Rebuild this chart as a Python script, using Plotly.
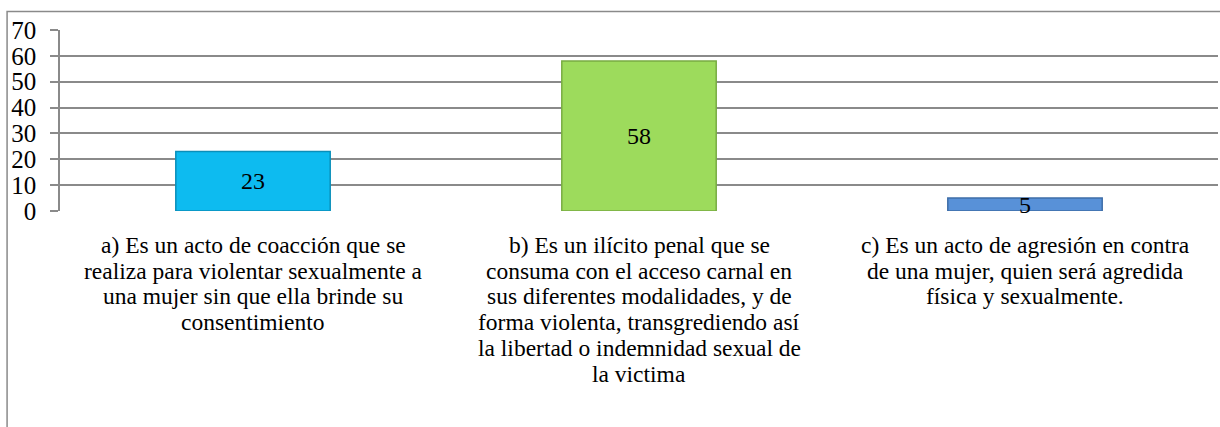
import plotly.graph_objs as go

categories = ["a", "b", "c"]
values = [23, 58, 5]
label_lines = [
    ["a) Es un acto de coacción que se",
     "realiza para violentar sexualmente a",
     "una mujer sin que ella brinde su",
     "consentimiento"],
    ["b) Es un ilícito penal que se",
     "consuma con el acceso carnal en",
     "sus diferentes modalidades, y de",
     "forma violenta, transgrediendo así",
     "la libertad o indemnidad sexual de",
     "la victima"],
    ["c) Es un acto de agresión en contra",
     "de una mujer, quien será agredida",
     "física y sexualmente."],
]
colors = ["#0DBBF0", "#9DDB5C", "#5891D8"]
edge_colors = ["#0A8FBA", "#78AC42", "#3E6EA8"]

serif = "Liberation Serif, Times New Roman, serif"

fig = go.Figure()
fig.add_trace(go.Bar(
    x=categories, y=values,
    marker=dict(color=colors, line=dict(color=edge_colors, width=1.5)),
    text=[str(v) for v in values],
    textposition="inside", insidetextanchor="middle", textangle=0,
    textfont=dict(family=serif, size=24, color="black"),
    constraintext="none",
    cliponaxis=False,
))

# category labels, one annotation per line (tight Word-like line spacing)
for cat, lines in zip(categories, label_lines):
    for i, line in enumerate(lines):
        fig.add_annotation(x=cat, y=0, xref="x", yref="y", text=line,
                           showarrow=False, yanchor="middle",
                           yshift=-(34 + 25.7 * i),
                           font=dict(family=serif, size=23.5, color="black"))

fig.update_layout(
    width=1220, height=427,
    margin=dict(l=60, r=2, t=30, b=216),
    paper_bgcolor="white", plot_bgcolor="white",
    bargap=0.6, showlegend=False,
    font=dict(family=serif, color="black"),
    uniformtext=dict(minsize=24, mode="show"),
)
fig.update_yaxes(
    range=[0, 70], dtick=10, showgrid=True, gridcolor="#8A8A8A", gridwidth=1.5,
    showline=True, linecolor="#8A8A8A", linewidth=1.5,
    ticks="outside", ticklen=8, tickcolor="#8A8A8A", tickwidth=1.5,
    ticklabelstandoff=9,
    tickfont=dict(family=serif, size=25, color="black"),
    zeroline=False, fixedrange=True, automargin=False,
)
fig.update_xaxes(
    showticklabels=False, showline=False, ticks="",
    fixedrange=True, automargin=False,
)
# outer frame
fig.add_shape(type="rect", xref="paper", yref="paper",
              x0=-0.0457, x1=1.05, y0=-1.3, y1=1.102,
              line=dict(color="#8A8A8A", width=1.5), fillcolor="rgba(0,0,0,0)")

fig.write_html("out.html", config={"displayModeBar": False},
               post_script="document.body.style.margin='0px';")
